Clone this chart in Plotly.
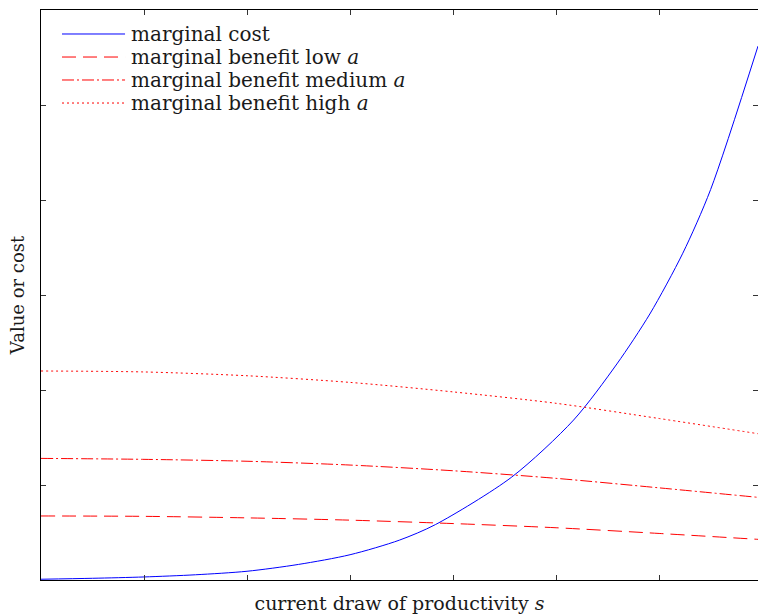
import plotly.graph_objects as go

# x positions in units of the x tick spacing; the plot has 6 interior ticks
s_cost = [0.0, 0.5, 1.0, 1.5, 2.0, 2.5, 3.0, 3.48, 3.83, 4.57, 5.17, 5.59, 5.91, 6.23, 6.50, 6.96]
marginal_cost = [0.008, 0.018, 0.032, 0.055, 0.092, 0.164, 0.266, 0.42, 0.584, 1.084, 1.684,
                 2.274, 2.80, 3.44, 4.11, 5.62]

s_benefit = [0, 1, 2, 3, 4, 5, 6, 6.96]
benefit_low = [0.674, 0.670, 0.654, 0.630, 0.594, 0.550, 0.490, 0.428]
benefit_medium = [1.28, 1.27, 1.25, 1.21, 1.15, 1.07, 0.97, 0.87]
benefit_high = [2.20, 2.19, 2.15, 2.08, 1.98, 1.86, 1.70, 1.54]

series_names = ["marginal cost", "marginal benefit low <i>a</i>",
                "marginal benefit medium <i>a</i>", "marginal benefit high <i>a</i>"]

x_ticks = [1, 2, 3, 4, 5, 6]
y_ticks = [1, 2, 3, 4, 5]

FONT = "DejaVu Serif"
TEXT = "#1a1a1a"

styles = [dict(color="#0000ff", width=1, dash="solid"),
          dict(color="#ff0000", width=1, dash="14px,7px"),
          dict(color="#ff0000", width=1, dash="12px,3px,2px,3px"),
          dict(color="#ff0000", width=1, dash="2px,3px")]

fig = go.Figure()
data = [(s_cost, marginal_cost), (s_benefit, benefit_low),
        (s_benefit, benefit_medium), (s_benefit, benefit_high)]
for (xs, ys), name, st in zip(data, series_names, styles):
    fig.add_trace(go.Scatter(x=xs, y=ys, mode="lines", name=name, showlegend=False,
                             line=dict(st, shape="spline", smoothing=0.8)))

# hand-drawn legend (line samples + labels) to match the reference spacing
leg_x0, leg_x1, leg_tx = 0.0293, 0.1172, 0.1227
leg_rows = [0.9579, 0.9175, 0.8772, 0.8368]
for name, st, yy in zip(series_names, styles, leg_rows):
    fig.add_shape(type="line", xref="paper", yref="paper", x0=leg_x0, x1=leg_x1, y0=yy, y1=yy,
                  line=st)
    fig.add_annotation(xref="paper", yref="paper", x=leg_tx, y=yy, text=name, showarrow=False,
                       xanchor="left", yanchor="middle",
                       font=dict(family=FONT, size=20, color=TEXT))

fig.update_layout(
    width=758, height=614,
    margin=dict(l=41, r=0, t=10, b=34),
    paper_bgcolor="white", plot_bgcolor="white",
    font=dict(family=FONT, size=18, color=TEXT),
    showlegend=False,
    xaxis=dict(range=[0, 6.96], tickvals=x_ticks, showticklabels=False, automargin=False,
               ticks="inside", ticklen=5, tickcolor="#333", tickwidth=1,
               showline=True, linecolor="black", linewidth=1, mirror="allticks",
               showgrid=False, zeroline=False,
               title=dict(text="current draw of productivity <i>s</i>", standoff=23,
                          font=dict(family=FONT, size=19, color=TEXT))),
    yaxis=dict(range=[0, 6], tickvals=y_ticks, showticklabels=False, automargin=False,
               ticks="inside", ticklen=5, tickcolor="#333", tickwidth=1,
               showline=True, linecolor="black", linewidth=1, mirror="allticks",
               showgrid=False, zeroline=False,
               title=dict(text="Value or cost", standoff=10,
                          font=dict(family=FONT, size=18, color=TEXT))),
)

fig.write_html("out.html", config={"displayModeBar": False},
               post_script="document.body.style.margin='0';document.body.style.overflow='hidden';")
